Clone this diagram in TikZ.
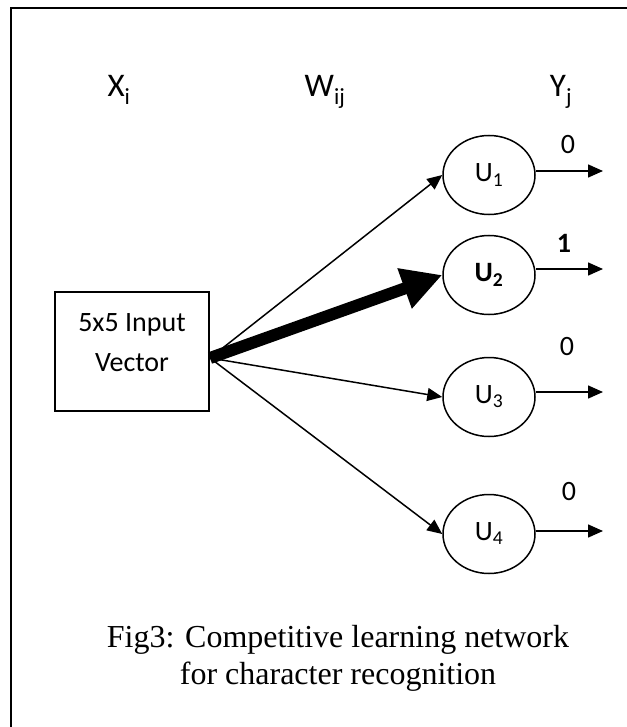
\documentclass[tikz,border=0pt]{standalone}
\usepackage{fontspec}
\setmainfont{Carlito}
\newfontfamily\capfont{Liberation Serif}
\usetikzlibrary{arrows.meta,shapes.geometric}
\begin{document}
\begin{tikzpicture}[x=1pt,y=-1pt,
  unit/.style={draw, ellipse, line width=1.5pt, minimum width=92pt, minimum height=79pt, inner sep=0pt, font=\fontsize{28}{32}\selectfont},
  head/.style={anchor=base, font=\fontsize{33}{38}\selectfont},
  outlab/.style={font=\fontsize{28}{32}\selectfont},
  conn/.style={line width=1.5pt, -{Triangle[length=15pt,width=13pt]}},
  thickconn/.style={line width=12pt, -{Triangle[length=40pt,width=40pt]}},
  inbox/.style={draw, line width=1.5pt, minimum width=154pt, minimum height=119pt, align=center, font=\fontsize{28}{40}\selectfont},
]
\useasboundingbox (0,0) rectangle (626,727);
\draw[line width=1.5pt] (11,8) rectangle (650,750);

\node[head] (xi) at (119,97) {X\textsubscript{i}};
\node[head] (wij) at (325,97) {W\textsubscript{ij}};
\node[head] (yj) at (561,97) {Y\textsubscript{j}};

\node[inbox, text depth=17pt] (box) at (132,351.5) {5x5 Input\\Vector};
\coordinate (src) at (210,358);

\node[unit] (u1) at (489,175) {U\textsubscript{1}};
\node[unit] (u2) at (489,275) {\bfseries U\textsubscript{2}};
\node[unit] (u3) at (489,397) {U\textsubscript{3}};
\node[unit] (u4) at (489,534) {U\textsubscript{4}};

\draw[conn] (src) -- (u1.west);
\draw[thickconn] (src) -- (u2.west);
\draw[conn] (src) -- (u3.west);
\draw[conn] (src) -- (u4.west);

\coordinate (o1) at (603,171);
\coordinate (o2) at (603,269);
\coordinate (o3) at (603,392);
\coordinate (o4) at (603,531);
\draw[conn] (u1.east |- o1) -- (o1);
\draw[conn] (u2.east |- o2) -- (o2);
\draw[conn] (u3.east |- o3) -- (o3);
\draw[conn] (u4.east |- o4) -- (o4);

\node[outlab] (l1) at (568,145) {0};
\node[outlab] (l2) at (564,243) {\bfseries 1};
\node[outlab] (l3) at (567,347) {0};
\node[outlab] (l4) at (569,492) {0};

\node[font=\capfont\fontsize{32}{37}\selectfont, align=center] (cap) at (338,658) {Fig3: Competitive learning network\\for character recognition};
\end{tikzpicture}
\end{document}
